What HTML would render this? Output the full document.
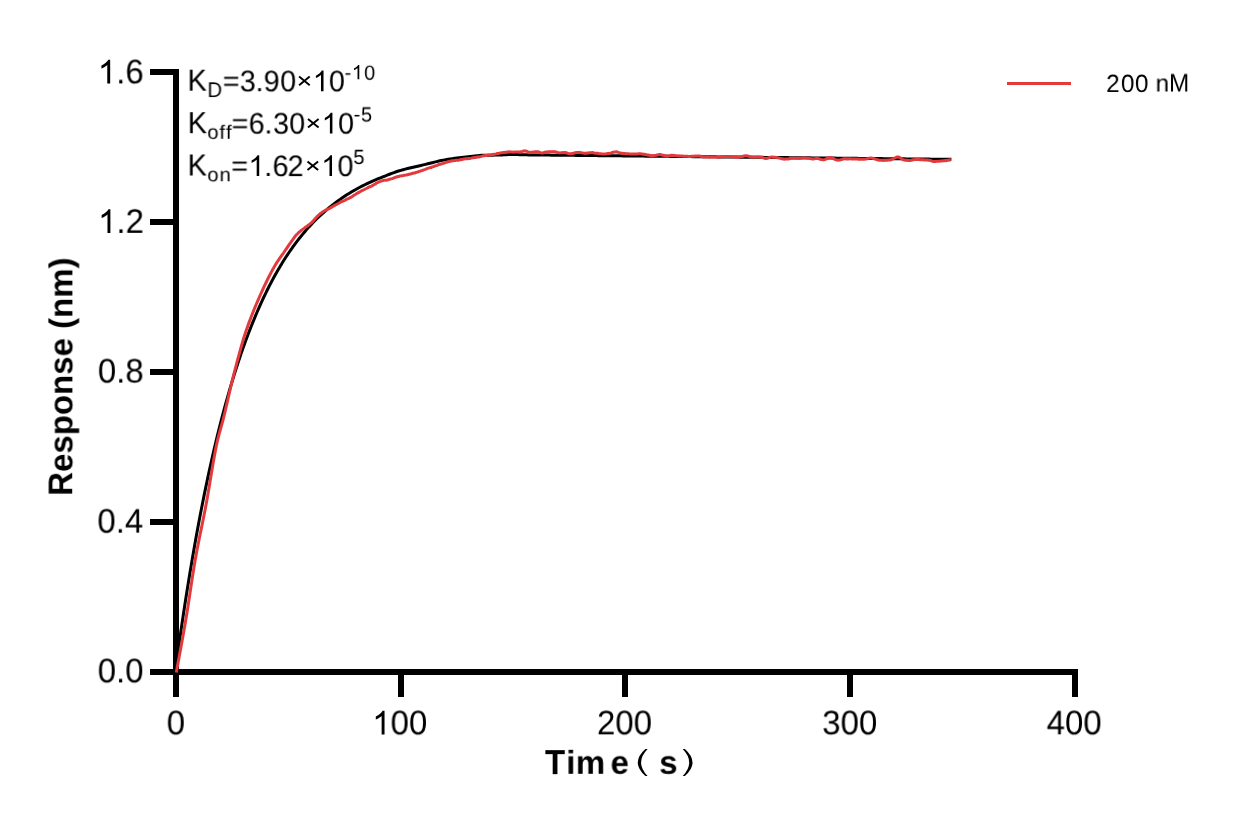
<!DOCTYPE html>
<html><head><meta charset="utf-8"><style>
html,body{margin:0;padding:0;background:#fff;}
body{width:1233px;height:825px;overflow:hidden;}
svg{display:block;font-family:"Liberation Sans", sans-serif;}
text{will-change:transform;text-rendering:geometricPrecision}
</style></head><body>
<svg width="1233" height="825" viewBox="0 0 1233 825">
<rect width="1233" height="825" fill="#fff"/>
<g fill="#000">
<rect x="173" y="69" width="6" height="606"/>
<rect x="150" y="669" width="928" height="6"/>
<rect x="150" y="69" width="29" height="6"/>
<rect x="150" y="219" width="29" height="6"/>
<rect x="150" y="369" width="29" height="6"/>
<rect x="150" y="519" width="29" height="6"/>
<rect x="173" y="669" width="6" height="28"/>
<rect x="398" y="669" width="6" height="28"/>
<rect x="622" y="669" width="6" height="28"/>
<rect x="847" y="669" width="6" height="28"/>
<rect x="1072" y="669" width="6" height="28"/>
</g>
<path transform="translate(97.88 83.40) scale(0.016113 -0.016113)" d="M763 0L583 0L583 1147Q518 1085 412 1023Q306 961 221 930L221 1104Q372 1175 485 1276Q598 1377 645 1472L763 1472Z" fill="#000"/>
<text transform="translate(116.23 83.40) rotate(0.01) scale(1 1.0)" font-size="33" fill="#000">.</text>
<text transform="translate(125.40 83.40) rotate(0.01) scale(1 1.035)" font-size="33" fill="#000">6</text>
<path transform="translate(98.09 232.90) scale(0.016113 -0.016113)" d="M763 0L583 0L583 1147Q518 1085 412 1023Q306 961 221 930L221 1104Q372 1175 485 1276Q598 1377 645 1472L763 1472Z" fill="#000"/>
<text transform="translate(116.44 232.90) rotate(0.01) scale(1 1.0)" font-size="33" fill="#000">.</text>
<text transform="translate(125.61 232.90) rotate(0.01) scale(1 1.035)" font-size="33" fill="#000">2</text>
<text transform="translate(97.86 382.60) rotate(0.01) scale(1 1.035)" font-size="33" fill="#000">0</text>
<text transform="translate(116.21 382.60) rotate(0.01) scale(1 1.0)" font-size="33" fill="#000">.</text>
<text transform="translate(125.38 382.60) rotate(0.01) scale(1 1.035)" font-size="33" fill="#000">8</text>
<text transform="translate(97.39 532.70) rotate(0.01) scale(1 1.035)" font-size="33" fill="#000">0</text>
<text transform="translate(115.75 532.70) rotate(0.01) scale(1 1.0)" font-size="33" fill="#000">.</text>
<text transform="translate(124.91 532.70) rotate(0.01) scale(1 1.035)" font-size="33" fill="#000">4</text>
<text transform="translate(97.71 682.40) rotate(0.01) scale(1 1.035)" font-size="33" fill="#000">0</text>
<text transform="translate(116.07 682.40) rotate(0.01) scale(1 1.0)" font-size="33" fill="#000">.</text>
<text transform="translate(125.24 682.40) rotate(0.01) scale(1 1.035)" font-size="33" fill="#000">0</text>
<text transform="translate(166.71 734.40) rotate(0.01) scale(1 1.035)" font-size="33" fill="#000">0</text>
<path transform="translate(372.24 734.40) scale(0.016113 -0.016113)" d="M763 0L583 0L583 1147Q518 1085 412 1023Q306 961 221 930L221 1104Q372 1175 485 1276Q598 1377 645 1472L763 1472Z" fill="#000"/>
<text transform="translate(390.59 734.40) rotate(0.01) scale(1 1.035)" font-size="33" fill="#000">0</text>
<text transform="translate(408.95 734.40) rotate(0.01) scale(1 1.035)" font-size="33" fill="#000">0</text>
<text transform="translate(596.99 734.40) rotate(0.01) scale(1 1.035)" font-size="33" fill="#000">2</text>
<text transform="translate(615.34 734.40) rotate(0.01) scale(1 1.035)" font-size="33" fill="#000">0</text>
<text transform="translate(633.70 734.40) rotate(0.01) scale(1 1.035)" font-size="33" fill="#000">0</text>
<text transform="translate(822.24 734.40) rotate(0.01) scale(1 1.035)" font-size="33" fill="#000">3</text>
<text transform="translate(840.60 734.40) rotate(0.01) scale(1 1.035)" font-size="33" fill="#000">0</text>
<text transform="translate(858.95 734.40) rotate(0.01) scale(1 1.035)" font-size="33" fill="#000">0</text>
<text transform="translate(1046.64 734.40) rotate(0.01) scale(1 1.035)" font-size="33" fill="#000">4</text>
<text transform="translate(1065.00 734.40) rotate(0.01) scale(1 1.035)" font-size="33" fill="#000">0</text>
<text transform="translate(1083.35 734.40) rotate(0.01) scale(1 1.035)" font-size="33" fill="#000">0</text>
<text transform="translate(544.98 773.80) rotate(0.01) scale(1 1.055)" font-size="33" font-weight="bold" fill="#000">T</text>
<text transform="translate(566.30 773.80) rotate(0.01) scale(1 1.0)" font-size="33" font-weight="bold" fill="#000">i</text>
<text transform="translate(575.82 773.80) rotate(0.01) scale(1 1.0)" font-size="33" font-weight="bold" fill="#000">m</text>
<text transform="translate(610.51 773.80) rotate(0.01) scale(1 1.0)" font-size="33" font-weight="bold" fill="#000">e</text>
<text transform="translate(659.24 773.80) rotate(0.01) scale(1 1.0)" font-size="33" font-weight="bold" fill="#000">s</text>
<g transform="translate(72.4 495.8) rotate(-90)"><text transform="translate(0.00 0) scale(1 1.04)" font-size="33" font-weight="bold">R</text><text transform="translate(23.83 0) scale(1 1.0)" font-size="33" font-weight="bold">e</text><text transform="translate(42.18 0) scale(1 1.0)" font-size="33" font-weight="bold">s</text><text transform="translate(60.54 0) scale(1 1.0)" font-size="33" font-weight="bold">p</text><text transform="translate(80.70 0) scale(1 1.0)" font-size="33" font-weight="bold">o</text><text transform="translate(100.85 0) scale(1 1.0)" font-size="33" font-weight="bold">n</text><text transform="translate(121.01 0) scale(1 1.0)" font-size="33" font-weight="bold">s</text><text transform="translate(139.36 0) scale(1 1.0)" font-size="33" font-weight="bold">e</text><text transform="translate(166.89 0) scale(1 1.0)" font-size="33" font-weight="bold">(</text><text transform="translate(177.87 0) scale(1 1.0)" font-size="33" font-weight="bold">n</text><text transform="translate(198.03 0) scale(1 1.0)" font-size="33" font-weight="bold">m</text><text transform="translate(227.37 0) scale(1 1.0)" font-size="33" font-weight="bold">)</text></g>
<text transform="translate(187.54 91.20) rotate(0.01) scale(1 1.06)" font-size="28.8" fill="#000">K</text>
<text transform="translate(207.43 97.00) rotate(0.01) scale(1 1.055)" font-size="20.3" fill="#000">D</text>
<text transform="translate(222.79 90.10) rotate(0.01) scale(1 0.95)" font-size="28.8" fill="#000">=</text>
<text transform="translate(239.80 91.20) rotate(0.01) scale(1 1.035)" font-size="28.8" fill="#000">3</text>
<text transform="translate(255.57 91.20) rotate(0.01) scale(1 1.0)" font-size="28.8" fill="#000">.</text>
<text transform="translate(263.65 91.20) rotate(0.01) scale(1 1.035)" font-size="28.8" fill="#000">9</text>
<text transform="translate(280.18 91.20) rotate(0.01) scale(1 1.035)" font-size="28.8" fill="#000">0</text>
<path d="M299.10 76.60L309.70 85.20M309.70 76.60L299.10 85.20" stroke="#000" stroke-width="1.9" fill="none"/>
<path transform="translate(312.79 91.20) scale(0.014063 -0.014063)" d="M763 0L583 0L583 1147Q518 1085 412 1023Q306 961 221 930L221 1104Q372 1175 485 1276Q598 1377 645 1472L763 1472Z" fill="#000"/>
<text transform="translate(328.88 91.20) rotate(0.01) scale(1 1.035)" font-size="28.8" fill="#000">0</text>
<text transform="translate(344.61 79.30) rotate(0.01) scale(1 1.0)" font-size="20.0" fill="#000">-</text>
<path transform="translate(351.84 79.30) scale(0.009766 -0.009766)" d="M763 0L583 0L583 1147Q518 1085 412 1023Q306 961 221 930L221 1104Q372 1175 485 1276Q598 1377 645 1472L763 1472Z" fill="#000"/>
<text transform="translate(364.12 79.30) rotate(0.01) scale(1 1.03)" font-size="20.0" fill="#000">0</text>
<text transform="translate(187.74 133.70) rotate(0.01) scale(1 1.06)" font-size="28.8" fill="#000">K</text>
<text transform="translate(207.35 139.10) rotate(0.01) scale(1 0.96)" font-size="20.3" fill="#000">o</text>
<text transform="translate(219.41 139.10) rotate(0.01) scale(1 0.96)" font-size="20.3" fill="#000">f</text>
<text transform="translate(226.01 139.10) rotate(0.01) scale(1 0.96)" font-size="20.3" fill="#000">f</text>
<text transform="translate(231.59 132.40) rotate(0.01) scale(1 0.95)" font-size="28.8" fill="#000">=</text>
<text transform="translate(248.64 133.50) rotate(0.01) scale(1 1.035)" font-size="28.8" fill="#000">6</text>
<text transform="translate(264.47 133.50) rotate(0.01) scale(1 1.0)" font-size="28.8" fill="#000">.</text>
<text transform="translate(273.10 133.50) rotate(0.01) scale(1 1.035)" font-size="28.8" fill="#000">3</text>
<text transform="translate(289.18 133.50) rotate(0.01) scale(1 1.035)" font-size="28.8" fill="#000">0</text>
<path d="M308.00 118.90L318.60 127.50M318.60 118.90L308.00 127.50" stroke="#000" stroke-width="1.9" fill="none"/>
<path transform="translate(321.69 133.50) scale(0.014063 -0.014063)" d="M763 0L583 0L583 1147Q518 1085 412 1023Q306 961 221 930L221 1104Q372 1175 485 1276Q598 1377 645 1472L763 1472Z" fill="#000"/>
<text transform="translate(338.07 133.50) rotate(0.01) scale(1 1.035)" font-size="28.8" fill="#000">0</text>
<text transform="translate(353.61 121.00) rotate(0.01) scale(1 1.0)" font-size="20.0" fill="#000">-</text>
<text transform="translate(361.00 121.00) rotate(0.01) scale(1 1.03)" font-size="20.0" fill="#000">5</text>
<text transform="translate(187.64 176.00) rotate(0.01) scale(1 1.06)" font-size="28.8" fill="#000">K</text>
<text transform="translate(207.35 181.60) rotate(0.01) scale(1 0.96)" font-size="20.3" fill="#000">o</text>
<text transform="translate(219.55 181.60) rotate(0.01) scale(1 0.96)" font-size="20.3" fill="#000">n</text>
<text transform="translate(231.29 174.90) rotate(0.01) scale(1 0.95)" font-size="28.8" fill="#000">=</text>
<path transform="translate(248.49 176.00) scale(0.014063 -0.014063)" d="M763 0L583 0L583 1147Q518 1085 412 1023Q306 961 221 930L221 1104Q372 1175 485 1276Q598 1377 645 1472L763 1472Z" fill="#000"/>
<text transform="translate(264.27 176.00) rotate(0.01) scale(1 1.0)" font-size="28.8" fill="#000">.</text>
<text transform="translate(272.54 176.00) rotate(0.01) scale(1 1.035)" font-size="28.8" fill="#000">6</text>
<text transform="translate(287.55 176.00) rotate(0.01) scale(1 1.035)" font-size="28.8" fill="#000">2</text>
<path d="M307.50 161.40L318.10 170.00M318.10 161.40L307.50 170.00" stroke="#000" stroke-width="1.9" fill="none"/>
<path transform="translate(321.29 176.00) scale(0.014063 -0.014063)" d="M763 0L583 0L583 1147Q518 1085 412 1023Q306 961 221 930L221 1104Q372 1175 485 1276Q598 1377 645 1472L763 1472Z" fill="#000"/>
<text transform="translate(337.48 176.00) rotate(0.01) scale(1 1.035)" font-size="28.8" fill="#000">0</text>
<text transform="translate(353.40 163.50) rotate(0.01) scale(1 1.03)" font-size="20.0" fill="#000">5</text>
<text transform="translate(1106.18 91.50) rotate(0.01) scale(1 1.025)" font-size="24.3" fill="#000">2</text>
<text transform="translate(1120.95 91.50) rotate(0.01) scale(1 1.025)" font-size="24.3" fill="#000">0</text>
<text transform="translate(1134.95 91.50) rotate(0.01) scale(1 1.025)" font-size="24.3" fill="#000">0</text>
<text transform="translate(1155.59 91.50) rotate(0.01) scale(1 1.0)" font-size="24.3" fill="#000">n</text>
<text transform="translate(1169.01 91.50) rotate(0.01) scale(1 1.047)" font-size="24.3" fill="#000">M</text>
<path d="M645.4 749 Q630.2 762.5 645.4 776 L647.6 776 Q634.6 762.5 647.6 749 Z" fill="#000"/>
<path d="M684.9 749 Q700.1 762.5 684.9 776 L682.7 776 Q695.7 762.5 682.7 749 Z" fill="#000"/>
<rect x="1007" y="82" width="64" height="3" fill="#E33A3E"/>
<path d="M175.20 672.00 L176.34 663.60 L177.47 655.33 L178.61 647.20 L179.74 639.20 L180.88 631.32 L182.01 623.58 L183.15 615.96 L184.28 608.46 L185.42 601.08 L186.55 593.82 L187.69 586.68 L188.82 579.65 L189.96 572.74 L191.09 565.94 L192.23 559.25 L193.36 552.66 L194.50 546.18 L195.63 539.81 L196.77 533.54 L197.90 527.37 L199.04 521.30 L200.17 515.32 L201.31 509.45 L202.44 503.67 L203.58 497.98 L204.71 492.38 L205.85 486.87 L206.99 481.46 L208.12 476.13 L209.26 470.88 L210.39 465.72 L211.53 460.64 L212.66 455.65 L213.80 450.73 L214.93 445.90 L216.07 441.14 L217.20 436.46 L218.34 431.86 L219.47 427.32 L220.61 422.87 L221.74 418.48 L222.88 414.16 L224.01 409.92 L225.15 405.74 L226.28 401.63 L227.42 397.59 L228.55 393.61 L229.69 389.69 L230.82 385.84 L231.96 382.05 L233.09 378.32 L234.23 374.66 L235.36 371.05 L236.50 367.50 L237.63 364.00 L238.77 360.57 L239.91 357.18 L241.04 353.86 L242.18 350.58 L243.31 347.36 L244.45 344.19 L245.58 341.07 L246.72 338.01 L247.85 334.99 L248.99 332.02 L250.12 329.10 L251.26 326.22 L252.39 323.39 L253.53 320.61 L254.66 317.87 L255.79 315.18 L256.91 312.53 L258.03 309.92 L259.16 307.36 L260.28 304.83 L261.40 302.35 L262.53 299.90 L263.65 297.50 L264.78 295.13 L265.90 292.81 L267.02 290.52 L268.15 288.26 L269.27 286.05 L270.39 283.87 L271.52 281.72 L272.64 279.61 L273.77 277.53 L274.89 275.49 L276.01 273.48 L277.14 271.50 L278.26 269.55 L279.38 267.64 L280.51 265.76 L281.63 263.90 L282.76 262.08 L283.88 260.28 L285.00 258.52 L286.13 256.78 L287.25 255.07 L288.38 253.39 L289.50 251.74 L290.62 250.11 L291.75 248.51 L292.87 246.93 L293.99 245.38 L295.12 243.86 L296.24 242.35 L297.37 240.88 L298.49 239.43 L299.61 238.00 L300.74 236.59 L301.86 235.21 L302.98 233.84 L304.11 232.51 L305.23 231.19 L306.36 229.89 L307.48 228.62 L308.60 227.36 L309.73 226.13 L310.85 224.91 L313.10 222.54 L315.35 220.24 L317.59 218.02 L319.84 215.87 L322.09 213.79 L324.34 211.77 L326.58 209.82 L328.83 207.93 L331.08 206.10 L333.33 204.33 L335.57 202.62 L337.82 200.96 L340.07 199.36 L342.31 197.80 L344.56 196.30 L346.81 194.84 L349.06 193.43 L351.31 192.07 L353.55 190.74 L355.80 189.47 L358.05 188.23 L360.30 187.03 L362.54 185.87 L364.79 184.75 L367.04 183.66 L369.28 182.61 L371.53 181.59 L373.78 180.60 L376.03 179.65 L378.27 178.72 L380.52 177.83 L382.77 176.93 L385.02 176.03 L387.26 175.13 L389.51 174.25 L391.76 173.39 L394.01 172.56 L396.25 171.77 L398.50 171.04 L400.75 170.36 L403.00 169.73 L405.25 169.12 L407.49 168.55 L409.74 167.99 L411.99 167.46 L414.24 166.94 L416.48 166.43 L418.73 165.93 L420.98 165.43 L423.23 164.91 L425.47 164.37 L427.72 163.83 L429.97 163.30 L432.22 162.74 L434.46 162.16 L436.71 161.58 L438.96 161.03 L441.20 160.56 L443.45 160.10 L445.70 159.68 L447.95 159.28 L450.19 158.94 L452.44 158.64 L454.69 158.36 L456.94 158.10 L459.19 157.83 L461.43 157.55 L463.68 157.29 L465.93 157.03 L468.18 156.77 L470.42 156.53 L472.67 156.28 L474.92 156.02 L477.17 155.76 L479.41 155.53 L481.66 155.35 L483.91 155.27 L486.16 155.25 L488.40 155.24 L490.65 155.19 L492.90 155.15 L495.14 155.10 L497.39 155.05 L499.64 154.98 L501.89 154.88 L504.13 154.77 L506.38 154.67 L508.63 154.57 L510.88 154.48 L513.12 154.42 L515.37 154.52 L517.62 154.62 L519.87 154.72 L522.12 154.80 L524.36 154.85 L526.61 154.87 L528.86 154.90 L531.11 154.92 L533.35 154.94 L535.60 154.97 L537.85 154.99 L540.10 155.02 L542.34 155.04 L544.59 155.06 L546.84 155.09 L549.09 155.11 L551.33 155.13 L553.58 155.16 L555.83 155.18 L558.08 155.21 L560.32 155.23 L562.57 155.25 L564.82 155.28 L567.07 155.30 L569.31 155.32 L571.56 155.35 L573.81 155.37 L576.06 155.40 L578.30 155.42 L580.55 155.44 L582.80 155.47 L585.05 155.49 L587.29 155.51 L589.54 155.54 L591.79 155.56 L594.04 155.59 L596.28 155.61 L598.53 155.63 L600.78 155.66 L603.03 155.68 L605.27 155.70 L607.52 155.73 L609.77 155.75 L612.01 155.78 L614.26 155.80 L616.51 155.82 L618.76 155.85 L621.00 155.87 L623.25 155.89 L625.50 155.92 L627.75 155.94 L630.00 155.97 L632.24 155.99 L634.49 156.01 L636.74 156.04 L638.99 156.06 L641.23 156.08 L643.48 156.11 L645.73 156.13 L647.98 156.16 L650.22 156.18 L652.47 156.20 L654.72 156.23 L656.97 156.25 L659.21 156.27 L661.46 156.30 L663.71 156.32 L665.95 156.35 L668.20 156.37 L670.45 156.39 L672.70 156.42 L674.94 156.44 L677.19 156.46 L679.44 156.49 L681.69 156.51 L683.93 156.54 L686.18 156.56 L688.43 156.58 L690.68 156.61 L692.93 156.63 L695.17 156.65 L697.42 156.68 L699.67 156.70 L701.91 156.72 L704.16 156.75 L706.41 156.77 L708.66 156.80 L710.90 156.82 L713.15 156.84 L715.40 156.87 L717.65 156.89 L719.89 156.91 L722.14 156.94 L724.39 156.96 L726.64 156.99 L728.88 157.01 L731.13 157.03 L733.38 157.06 L735.63 157.08 L737.88 157.10 L740.12 157.13 L742.37 157.15 L744.62 157.17 L746.87 157.20 L749.11 157.22 L751.36 157.25 L753.61 157.27 L755.86 157.29 L758.10 157.32 L760.35 157.34 L762.60 157.36 L764.85 157.39 L767.09 157.41 L769.34 157.44 L771.59 157.46 L773.84 157.48 L776.08 157.51 L778.33 157.53 L780.58 157.55 L782.83 157.58 L785.07 157.60 L787.32 157.62 L789.57 157.65 L791.82 157.67 L794.06 157.70 L796.31 157.72 L798.56 157.74 L800.81 157.77 L803.05 157.79 L805.30 157.81 L807.55 157.84 L809.79 157.86 L812.04 157.88 L814.29 157.91 L816.54 157.93 L818.78 157.96 L821.03 157.98 L823.28 158.00 L825.53 158.03 L827.77 158.05 L830.02 158.07 L832.27 158.10 L834.52 158.12 L836.76 158.14 L839.01 158.17 L841.26 158.19 L843.51 158.22 L845.75 158.24 L848.00 158.26 L850.25 158.29 L852.50 158.31 L854.75 158.33 L856.99 158.36 L859.24 158.38 L861.49 158.40 L863.74 158.43 L865.98 158.45 L868.23 158.48 L870.48 158.50 L872.73 158.52 L874.97 158.55 L877.22 158.57 L879.47 158.59 L881.72 158.62 L883.96 158.64 L886.21 158.66 L888.46 158.69 L890.71 158.71 L892.95 158.74 L895.20 158.76 L897.45 158.78 L899.70 158.81 L901.94 158.83 L904.19 158.85 L906.44 158.88 L908.69 158.90 L910.93 158.92 L913.18 158.95 L915.43 158.97 L917.68 159.00 L919.92 159.02 L922.17 159.04 L924.42 159.07 L926.66 159.09 L928.91 159.11 L931.16 159.14 L933.41 159.16 L935.65 159.18 L937.90 159.21 L940.15 159.23 L942.40 159.25 L944.64 159.28 L946.89 159.30 L949.14 159.33 L951.39 159.35" fill="none" stroke="#000" stroke-width="3" stroke-linejoin="round"/>
<path d="M176.30 672.50 L177.30 666.97 L178.30 661.50 L179.30 656.06 L180.30 650.63 L181.30 645.17 L182.30 639.68 L183.30 634.12 L184.30 628.47 L185.30 622.71 L186.30 616.80 L187.30 610.64 L188.30 604.24 L189.30 597.67 L190.30 591.03 L191.30 584.38 L192.30 577.82 L193.30 571.42 L194.30 565.26 L195.30 559.43 L196.30 553.90 L197.30 548.58 L198.30 543.44 L199.30 538.43 L200.30 533.50 L201.30 528.62 L202.30 523.74 L203.30 518.82 L204.30 513.81 L205.30 508.69 L206.30 503.39 L207.30 497.83 L208.30 492.05 L209.30 486.13 L210.30 480.11 L211.30 474.08 L212.30 468.10 L213.30 462.23 L214.30 456.56 L215.30 451.14 L216.30 446.04 L217.30 441.33 L218.30 437.08 L219.30 433.27 L220.30 429.72 L221.30 426.24 L222.30 422.66 L223.30 418.81 L224.30 414.74 L225.30 410.53 L226.30 406.21 L227.30 401.84 L228.30 397.45 L229.30 393.06 L230.30 388.74 L231.30 384.50 L232.30 380.40 L233.30 376.41 L234.30 372.48 L235.30 368.59 L236.30 364.76 L237.30 360.99 L238.30 357.27 L239.30 353.60 L240.30 350.00 L241.30 346.42 L242.30 342.88 L243.30 339.46 L244.30 336.22 L245.30 333.21 L246.30 330.28 L247.30 327.42 L248.30 324.62 L249.30 321.89 L250.30 319.21 L251.30 316.59 L252.30 314.02 L253.30 311.51 L254.30 309.03 L255.30 306.61 L256.30 304.23 L257.30 301.84 L258.30 299.56 L259.30 297.26 L260.30 294.99 L261.30 292.75 L262.30 290.58 L263.30 288.36 L264.30 286.21 L265.30 284.12 L266.30 282.01 L267.30 280.01 L268.30 277.98 L269.30 276.01 L270.30 274.07 L271.30 272.13 L272.30 270.34 L273.30 268.47 L274.30 266.76 L275.30 264.97 L276.30 263.38 L277.30 261.76 L278.30 260.29 L279.30 258.81 L280.30 257.35 L281.30 255.99 L282.30 254.65 L283.30 253.26 L284.30 251.73 L285.30 250.25 L286.30 248.84 L287.30 247.39 L288.30 245.90 L289.30 244.45 L290.30 243.10 L291.30 241.68 L292.30 240.27 L293.30 238.79 L294.30 237.49 L295.30 236.19 L296.30 234.94 L297.30 233.99 L298.30 232.94 L299.30 231.98 L300.30 231.25 L301.30 230.40 L302.30 229.63 L303.30 228.90 L304.30 228.15 L305.30 227.30 L306.30 226.65 L307.30 226.03 L308.30 225.16 L309.30 224.44 L310.30 223.65 L311.30 222.85 L312.30 221.88 L313.30 220.82 L314.30 219.65 L315.30 218.61 L316.30 217.47 L317.30 216.36 L318.30 215.47 L319.30 214.48 L320.30 213.55 L321.30 212.94 L322.30 212.13 L323.30 211.56 L324.30 210.85 L325.30 210.45 L326.30 209.91 L327.30 209.44 L328.30 208.87 L329.30 208.65 L330.30 207.90 L331.30 207.34 L332.30 206.83 L333.30 206.17 L334.30 205.67 L335.30 204.99 L336.30 204.57 L337.30 203.99 L338.30 203.51 L339.30 202.95 L340.30 202.29 L341.30 201.75 L342.30 201.32 L343.30 200.99 L344.30 200.51 L345.30 200.06 L346.30 199.43 L347.30 198.92 L348.30 198.60 L349.30 198.11 L350.30 197.55 L351.30 197.04 L352.30 196.38 L353.30 195.67 L354.30 195.04 L355.30 194.46 L356.30 193.81 L357.30 193.17 L358.30 192.76 L359.30 192.02 L360.30 191.53 L361.30 190.94 L362.30 190.48 L363.30 190.03 L364.30 189.52 L365.30 188.96 L366.30 188.50 L367.30 187.99 L368.30 187.37 L369.30 186.81 L370.30 186.79 L371.30 186.22 L372.30 185.66 L373.30 185.00 L374.30 184.46 L375.30 184.05 L376.30 183.13 L377.30 182.73 L378.30 182.27 L379.30 181.73 L380.30 181.36 L381.30 180.94 L382.30 180.85 L383.30 180.37 L384.30 180.19 L385.30 180.20 L386.30 180.18 L387.30 179.92 L388.30 179.80 L389.30 179.40 L390.30 179.03 L391.30 178.88 L392.30 178.56 L393.30 178.23 L394.30 177.75 L395.30 177.35 L396.30 177.00 L397.30 176.73 L398.30 176.48 L399.30 176.22 L400.30 175.88 L401.30 175.84 L402.30 175.68 L403.30 175.52 L404.30 175.33 L405.30 175.12 L406.30 174.97 L407.30 174.71 L408.30 174.50 L409.30 174.20 L410.30 174.04 L411.30 173.75 L412.30 173.34 L413.30 173.27 L414.30 172.94 L415.30 172.75 L416.30 172.38 L417.30 172.08 L418.30 171.79 L419.30 171.45 L420.30 171.10 L421.30 170.66 L422.30 170.59 L423.30 169.97 L424.30 169.68 L425.30 169.35 L426.30 168.91 L427.30 168.53 L428.30 168.18 L429.30 167.89 L430.30 167.53 L431.30 167.44 L432.30 166.86 L433.30 166.64 L434.30 166.26 L435.30 165.90 L436.30 165.60 L437.30 165.32 L438.30 164.79 L439.30 164.44 L440.30 164.22 L441.30 163.90 L442.30 163.71 L443.30 163.34 L444.30 162.98 L445.30 162.63 L446.30 162.37 L447.30 162.04 L448.30 161.67 L449.30 161.52 L450.30 161.27 L451.30 161.04 L452.30 160.82 L453.30 160.81 L454.30 160.59 L455.30 160.50 L456.30 160.30 L457.30 160.20 L458.30 160.16 L459.30 160.06 L460.30 159.83 L461.30 159.60 L462.30 159.44 L463.30 159.17 L464.30 158.89 L465.30 158.80 L466.30 158.69 L467.30 158.69 L468.30 158.51 L469.30 158.48 L470.30 158.39 L471.30 158.16 L472.30 157.88 L473.30 157.70 L474.30 157.56 L475.30 157.42 L476.30 157.30 L477.30 157.08 L478.30 156.85 L479.30 156.88 L480.30 156.59 L481.30 156.36 L482.30 156.10 L483.30 155.78 L484.30 155.67 L485.30 155.58 L486.30 155.54 L487.30 155.35 L488.30 154.98 L489.30 155.03 L490.30 154.89 L491.30 154.79 L492.30 154.58 L493.30 154.55 L494.30 154.30 L495.30 154.12 L496.30 153.88 L497.30 153.49 L498.30 153.42 L499.30 153.17 L500.30 152.88 L501.30 152.80 L502.30 152.66 L503.30 152.50 L504.30 152.43 L505.30 152.32 L506.30 152.23 L507.30 152.05 L508.30 152.03 L509.30 151.80 L510.30 151.97 L511.30 151.94 L512.30 152.09 L513.30 152.18 L514.30 152.10 L515.30 152.03 L516.30 151.99 L517.30 152.08 L518.30 151.88 L519.30 152.04 L520.30 151.85 L521.30 151.72 L522.30 151.44 L523.30 151.02 L524.30 150.87 L525.30 150.89 L526.30 151.02 L527.30 151.54 L528.30 151.97 L529.30 152.19 L530.30 152.40 L531.30 152.29 L532.30 152.33 L533.30 152.02 L534.30 152.05 L535.30 151.73 L536.30 151.79 L537.30 151.64 L538.30 151.82 L539.30 152.21 L540.30 152.62 L541.30 152.96 L542.30 153.04 L543.30 152.73 L544.30 152.42 L545.30 152.03 L546.30 151.96 L547.30 151.92 L548.30 151.81 L549.30 151.73 L550.30 151.67 L551.30 151.64 L552.30 151.67 L553.30 151.72 L554.30 151.57 L555.30 151.89 L556.30 151.99 L557.30 152.40 L558.30 152.65 L559.30 152.88 L560.30 152.87 L561.30 152.77 L562.30 152.69 L563.30 152.48 L564.30 152.67 L565.30 152.50 L566.30 152.76 L567.30 153.17 L568.30 153.53 L569.30 153.68 L570.30 153.84 L571.30 153.74 L572.30 153.40 L573.30 153.27 L574.30 152.92 L575.30 152.75 L576.30 152.57 L577.30 152.44 L578.30 152.40 L579.30 152.36 L580.30 152.60 L581.30 152.66 L582.30 152.90 L583.30 153.11 L584.30 153.17 L585.30 153.16 L586.30 153.27 L587.30 153.04 L588.30 152.91 L589.30 152.74 L590.30 152.77 L591.30 152.62 L592.30 152.44 L593.30 152.74 L594.30 152.99 L595.30 153.15 L596.30 153.15 L597.30 153.33 L598.30 153.51 L599.30 153.70 L600.30 153.81 L601.30 153.87 L602.30 154.11 L603.30 154.12 L604.30 153.92 L605.30 153.88 L606.30 153.78 L607.30 153.61 L608.30 153.50 L609.30 153.36 L610.30 153.17 L611.30 152.85 L612.30 152.44 L613.30 152.26 L614.30 152.07 L615.30 151.98 L616.30 151.84 L617.30 152.00 L618.30 152.37 L619.30 152.66 L620.30 152.86 L621.30 153.14 L622.30 153.20 L623.30 153.44 L624.30 153.45 L625.30 153.61 L626.30 153.70 L627.30 153.76 L628.30 153.72 L629.30 153.88 L630.30 154.03 L631.30 154.03 L632.30 154.03 L633.30 154.10 L634.30 154.11 L635.30 154.09 L636.30 153.92 L637.30 153.93 L638.30 153.86 L639.30 153.78 L640.30 153.72 L641.30 153.88 L642.30 153.94 L643.30 154.31 L644.30 154.31 L645.30 154.47 L646.30 154.63 L647.30 154.97 L648.30 155.00 L649.30 155.33 L650.30 155.55 L651.30 155.77 L652.30 155.81 L653.30 155.82 L654.30 155.48 L655.30 155.37 L656.30 155.25 L657.30 154.87 L658.30 154.73 L659.30 154.60 L660.30 154.51 L661.30 154.85 L662.30 155.19 L663.30 155.33 L664.30 155.48 L665.30 155.84 L666.30 155.94 L667.30 156.01 L668.30 155.90 L669.30 155.65 L670.30 155.53 L671.30 155.23 L672.30 155.40 L673.30 155.34 L674.30 155.47 L675.30 155.58 L676.30 155.63 L677.30 155.80 L678.30 155.88 L679.30 155.87 L680.30 156.03 L681.30 156.05 L682.30 155.97 L683.30 156.16 L684.30 156.20 L685.30 156.31 L686.30 156.29 L687.30 156.25 L688.30 156.45 L689.30 156.43 L690.30 156.38 L691.30 156.35 L692.30 156.35 L693.30 156.33 L694.30 156.23 L695.30 156.03 L696.30 156.13 L697.30 155.89 L698.30 155.97 L699.30 156.07 L700.30 156.29 L701.30 156.37 L702.30 156.79 L703.30 156.92 L704.30 157.04 L705.30 157.12 L706.30 156.98 L707.30 156.81 L708.30 157.07 L709.30 157.14 L710.30 157.13 L711.30 157.02 L712.30 157.07 L713.30 157.13 L714.30 157.00 L715.30 157.10 L716.30 157.09 L717.30 157.23 L718.30 157.03 L719.30 157.15 L720.30 156.99 L721.30 156.77 L722.30 156.92 L723.30 156.54 L724.30 156.55 L725.30 156.56 L726.30 156.39 L727.30 156.39 L728.30 156.64 L729.30 156.64 L730.30 156.59 L731.30 156.64 L732.30 156.73 L733.30 156.89 L734.30 156.89 L735.30 157.06 L736.30 157.21 L737.30 157.21 L738.30 157.19 L739.30 157.08 L740.30 156.72 L741.30 156.74 L742.30 156.45 L743.30 156.19 L744.30 155.92 L745.30 155.76 L746.30 155.76 L747.30 155.96 L748.30 156.10 L749.30 156.41 L750.30 156.70 L751.30 157.00 L752.30 157.01 L753.30 157.05 L754.30 157.17 L755.30 157.04 L756.30 157.09 L757.30 156.96 L758.30 157.06 L759.30 157.06 L760.30 157.12 L761.30 157.25 L762.30 157.50 L763.30 157.87 L764.30 158.15 L765.30 158.45 L766.30 158.48 L767.30 158.15 L768.30 157.97 L769.30 157.53 L770.30 157.30 L771.30 157.10 L772.30 156.99 L773.30 157.21 L774.30 157.28 L775.30 157.31 L776.30 157.45 L777.30 157.75 L778.30 157.87 L779.30 158.12 L780.30 158.40 L781.30 158.68 L782.30 158.74 L783.30 159.04 L784.30 159.15 L785.30 159.10 L786.30 159.03 L787.30 159.11 L788.30 158.90 L789.30 158.81 L790.30 158.52 L791.30 158.31 L792.30 158.34 L793.30 158.13 L794.30 158.22 L795.30 158.21 L796.30 158.40 L797.30 158.35 L798.30 158.12 L799.30 158.46 L800.30 158.24 L801.30 158.29 L802.30 158.09 L803.30 158.07 L804.30 158.09 L805.30 158.10 L806.30 158.09 L807.30 158.33 L808.30 158.27 L809.30 158.34 L810.30 158.57 L811.30 158.68 L812.30 159.03 L813.30 158.96 L814.30 158.83 L815.30 158.61 L816.30 158.34 L817.30 158.31 L818.30 158.61 L819.30 158.94 L820.30 159.36 L821.30 159.61 L822.30 159.71 L823.30 159.86 L824.30 159.69 L825.30 159.34 L826.30 158.83 L827.30 158.21 L828.30 157.95 L829.30 157.50 L830.30 157.52 L831.30 157.51 L832.30 158.03 L833.30 158.38 L834.30 159.03 L835.30 159.58 L836.30 159.95 L837.30 160.05 L838.30 160.14 L839.30 160.04 L840.30 159.91 L841.30 159.56 L842.30 159.22 L843.30 158.95 L844.30 158.82 L845.30 158.82 L846.30 158.95 L847.30 158.86 L848.30 158.91 L849.30 158.77 L850.30 158.83 L851.30 158.89 L852.30 158.88 L853.30 159.02 L854.30 159.11 L855.30 159.02 L856.30 159.04 L857.30 159.07 L858.30 159.15 L859.30 159.12 L860.30 159.22 L861.30 159.24 L862.30 159.27 L863.30 159.32 L864.30 159.25 L865.30 159.13 L866.30 159.01 L867.30 158.60 L868.30 158.39 L869.30 158.12 L870.30 157.97 L871.30 158.01 L872.30 158.15 L873.30 158.47 L874.30 158.73 L875.30 159.06 L876.30 159.50 L877.30 159.70 L878.30 160.07 L879.30 160.20 L880.30 160.32 L881.30 160.24 L882.30 160.30 L883.30 160.47 L884.30 160.29 L885.30 160.26 L886.30 160.16 L887.30 160.16 L888.30 159.97 L889.30 159.95 L890.30 159.96 L891.30 159.74 L892.30 159.24 L893.30 158.76 L894.30 158.23 L895.30 157.76 L896.30 157.29 L897.30 157.02 L898.30 157.10 L899.30 157.28 L900.30 157.91 L901.30 158.62 L902.30 159.25 L903.30 159.84 L904.30 160.00 L905.30 160.16 L906.30 160.20 L907.30 160.32 L908.30 160.48 L909.30 160.50 L910.30 160.41 L911.30 160.29 L912.30 160.00 L913.30 159.71 L914.30 159.62 L915.30 159.45 L916.30 159.54 L917.30 159.57 L918.30 159.54 L919.30 159.49 L920.30 159.66 L921.30 159.68 L922.30 159.74 L923.30 159.83 L924.30 159.92 L925.30 159.92 L926.30 160.09 L927.30 160.01 L928.30 160.24 L929.30 160.23 L930.30 160.43 L931.30 160.82 L932.30 161.16 L933.30 161.47 L934.30 161.61 L935.30 161.49 L936.30 161.38 L937.30 161.27 L938.30 161.30 L939.30 161.14 L940.30 161.08 L941.30 160.91 L942.30 160.99 L943.30 160.77 L944.30 160.80 L945.30 160.55 L946.30 160.65 L947.30 160.22 L948.30 160.28 L949.30 160.08 L950.30 159.72 L950.70 159.79" fill="none" stroke="#E33A3E" stroke-width="3" stroke-linejoin="round"/>
</svg>
</body></html>
